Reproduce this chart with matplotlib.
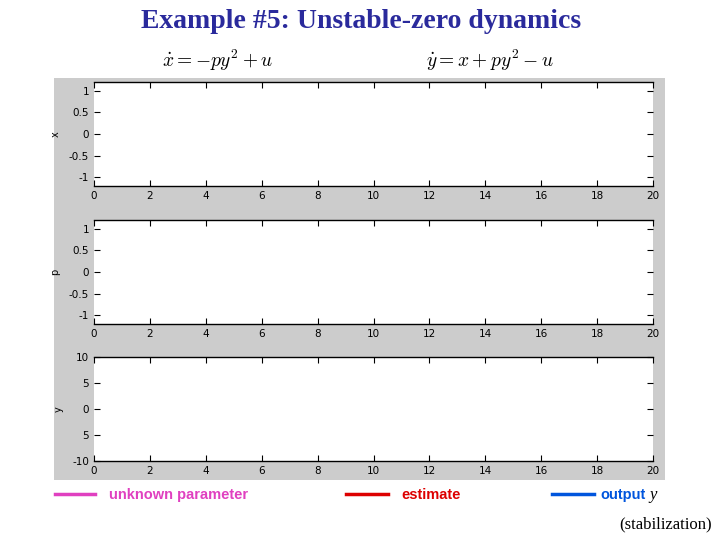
import matplotlib
matplotlib.use("Agg")
import matplotlib.pyplot as plt
from matplotlib.lines import Line2D

plt.rcParams["mathtext.fontset"] = "cm"
W, H = 720, 540
x_ticks = [0, 2, 4, 6, 8, 10, 12, 14, 16, 18, 20]
panel_ylabels = ["x", "p", "y"]
panel_ylims = [(-1.2, 1.2), (-1.2, 1.2), (-10, 10)]
panel_yticks = [[-1, -0.5, 0, 0.5, 1], [-1, -0.5, 0, 0.5, 1], [-10, -5, 0, 5, 10]]
panel_yticklabels = [["-1", "-0.5", "0", "0.5", "1"], ["-1", "-0.5", "0", "0.5", "1"], ["-10", "5", "0", "5", "10"]]
legend_labels = ["unknown parameter", "estimate", "output"]
legend_colors = ["#e040c0", "#dd0000", "#0055dd"]

fig = plt.figure(figsize=(7.2, 5.4), dpi=100)
def fx(px): return px / W
def fy(py): return 1 - py / H

bg = fig.add_axes([fx(54), fy(480), fx(665) - fx(54), fy(78) - fy(480)])
bg.set_facecolor("#cccccc")
bg.set_xticks([]); bg.set_yticks([])
for s in bg.spines.values():
    s.set_visible(False)

fig.text(fx(361), fy(22), "Example #5: Unstable-zero dynamics", ha="center", va="center",
         fontsize=20, fontweight="bold", family="Liberation Serif", color="#2a2a9c")
fig.text(fx(218), fy(60), r"$\dot{x}=-py^2+u$", ha="center", va="center", fontsize=14)
fig.text(fx(490), fy(60), r"$\dot{y}=x+py^2-u$", ha="center", va="center", fontsize=14)

tops = [82, 220, 357]
for i in range(3):
    t = tops[i]
    ax = fig.add_axes([fx(94), fy(t + 104), fx(653) - fx(94), 104 / H])
    ax.set_facecolor("white")
    ax.set_xlim(0, 20)
    ax.set_ylim(*panel_ylims[i])
    ax.set_xticks(x_ticks)
    ax.set_yticks(panel_yticks[i])
    ax.set_yticklabels(panel_yticklabels[i])
    ax.tick_params(labelsize=7.5, direction="in", length=4, top=True, right=True)
    ax.set_ylabel(panel_ylabels[i], fontsize=7, labelpad=6)
    for k, s in ax.spines.items():
        s.set_linewidth(1.0)
        if k in ("left", "right"):
            s.set_visible(False)

lx = [(55, 95, 109), (346, 388, 401), (552, 594, 600)]
for (a, b, tx), lab, c in zip(lx, legend_labels, legend_colors):
    fig.add_artist(Line2D([fx(a), fx(b)], [fy(494), fy(494)], color=c, lw=2.5,
                          transform=fig.transFigure))
    fig.text(fx(tx), fy(495), lab, color=c, fontsize=10.5, fontweight="bold",
             va="center", ha="left", family="Liberation Sans")
fig.text(fx(649), fy(495), "y", color="black", fontsize=12, style="italic",
         family="Liberation Serif", va="center", ha="left")
fig.text(fx(712), fy(524), "(stabilization)", fontsize=12, family="Liberation Serif",
         ha="right", va="center")

fig.savefig("out.png", dpi=100)
